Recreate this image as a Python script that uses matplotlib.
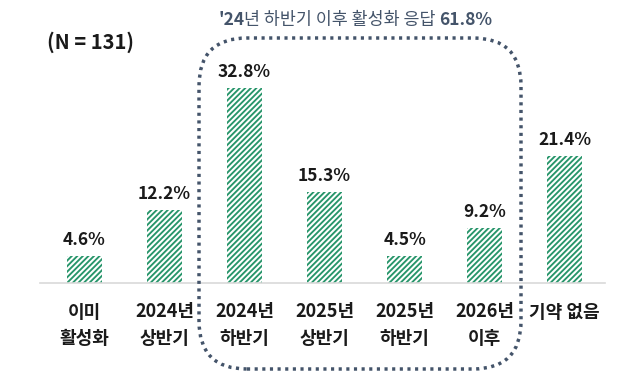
import matplotlib
matplotlib.use("Agg")
import matplotlib.pyplot as plt
from matplotlib.patches import FancyBboxPatch

plt.rcParams['font.family'] = ['Noto Sans CJK KR', 'DejaVu Sans']
plt.rcParams['hatch.linewidth'] = 1.35

categories = [("이미", "활성화"), ("2024년", "상반기"), ("2024년", "하반기"),
              ("2025년", "상반기"), ("2025년", "하반기"), ("2026년", "이후"),
              ("기약 없음", "")]
values = [4.6, 12.2, 32.8, 15.3, 4.5, 9.2, 21.4]
value_labels = ["4.6%", "12.2%", "32.8%", "15.3%", "4.5%", "9.2%", "21.4%"]
sample_label = "(N = 131)"
box_title_a = "'24"
box_title_b = "년 하반기 이후 활성화 응답 "
box_title_c = "61.8%"

W, H = 620, 373
fig = plt.figure(figsize=(W / 100, H / 100), dpi=100)
ax = fig.add_axes([0, 0, 1, 1])
ax.axis('off')

px_per_unit = 80.0
x0 = 84.5
ppv = 5.95
base = H - 283
ax.set_xlim(-x0 / px_per_unit, (W - x0) / px_per_unit)
ax.set_ylim(-base / ppv, (H - base) / ppv)

green = '#27956a'
xs = list(range(len(values)))
ax.bar(xs, values, width=35 / 80, color='white', edgecolor=green,
       linewidth=0, hatch='//////', zorder=2)

# baseline
ax.plot([(40 - x0) / px_per_unit, (605 - x0) / px_per_unit], [0, 0],
        color='#d9d9d9', lw=1.2, zorder=3)

for x, v, lab in zip(xs, values, value_labels):
    ax.annotate(lab, (x, v), xytext=(0, 7), textcoords='offset pixels',
                ha='center', va='bottom', fontsize=12.5, fontweight='bold',
                color='#1a1a1a')

for x, (l1, l2) in zip(xs, categories):
    fs = 13
    ax.annotate(l1, (x, 0), xytext=(0, -29), textcoords='offset pixels',
                ha='center', va='center', fontsize=fs, fontweight='bold',
                color='#1a1a1a')
    if l2:
        ax.annotate(l2, (x, 0), xytext=(0, -55), textcoords='offset pixels',
                    ha='center', va='center', fontsize=fs, fontweight='bold',
                    color='#1a1a1a')

fig.text(47 / W, 1 - 42 / H, sample_label, ha='left', va='center',
         fontsize=14.5, fontweight='bold', color='#1a1a1a')

# dotted rounded box
bx0, bx1, by0, by1 = 199, 521, 38, 369
rad = 48
box = FancyBboxPatch((bx0 / W, 1 - by1 / H), (bx1 - bx0) / W, (by1 - by0) / H,
                     boxstyle="round,pad=0,rounding_size=%f" % (rad / W),
                     transform=fig.transFigure, fill=False,
                     edgecolor='#44546a', lw=2.5, linestyle=(0, (0.9, 1.3)),
                     mutation_aspect=W / H)
fig.add_artist(box)

title_color = '#44546a'
tfs = 12.5
t1 = fig.text(218 / W, 1 - 20 / H, box_title_a, ha='left', va='center',
              fontsize=tfs, fontweight='bold', color=title_color)
fig.canvas.draw()
r = fig.canvas.get_renderer()
bb = t1.get_window_extent(r)
t2 = fig.text(bb.x1 / W, 1 - 20 / H, box_title_b, ha='left', va='center',
              fontsize=tfs, color=title_color)
bb2 = t2.get_window_extent(r)
fig.text(bb2.x1 / W, 1 - 20 / H, box_title_c, ha='left', va='center',
         fontsize=tfs, fontweight='bold', color=title_color)

fig.savefig('out.png', dpi=100, facecolor='white')
